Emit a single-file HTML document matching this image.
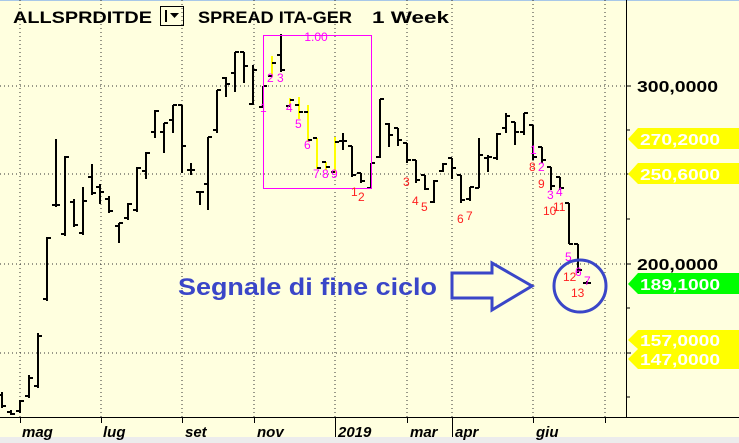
<!DOCTYPE html>
<html><head><meta charset="utf-8"><style>
html,body{margin:0;padding:0;background:#ffffe0;}
svg{display:block}
</style></head><body>
<svg width="739" height="443" viewBox="0 0 739 443" xmlns="http://www.w3.org/2000/svg" font-family="Liberation Sans, sans-serif">
<rect width="739" height="443" fill="#ffffdf"/>
<rect x="0" y="0" width="739" height="1" fill="#a8c8e8"/>
<rect x="0" y="437" width="739" height="6" fill="#ececec"/>
<g stroke="#333" stroke-width="1" stroke-dasharray="1,3">
<line x1="20" y1="0" x2="20" y2="417"/><line x1="101" y1="0" x2="101" y2="417"/><line x1="182" y1="0" x2="182" y2="417"/><line x1="254" y1="0" x2="254" y2="417"/><line x1="335" y1="0" x2="335" y2="417"/><line x1="407" y1="0" x2="407" y2="417"/><line x1="452" y1="0" x2="452" y2="417"/><line x1="533" y1="0" x2="533" y2="417"/><line x1="605" y1="0" x2="605" y2="417"/>
<line x1="0" y1="86" x2="626" y2="86"/><line x1="0" y1="174" x2="626" y2="174"/><line x1="0" y1="264" x2="626" y2="264"/><line x1="0" y1="353" x2="626" y2="353"/>
</g>
<g stroke="#000" stroke-width="1">
<line x1="626.5" y1="0" x2="626.5" y2="417"/><line x1="0" y1="417.5" x2="739" y2="417.5"/>
<line x1="626" y1="86" x2="631" y2="86"/><line x1="626" y1="130" x2="630" y2="130"/><line x1="626" y1="174" x2="631" y2="174"/><line x1="626" y1="219" x2="630" y2="219"/><line x1="626" y1="264" x2="631" y2="264"/><line x1="626" y1="308" x2="630" y2="308"/><line x1="626" y1="353" x2="631" y2="353"/><line x1="626" y1="397" x2="630" y2="397"/>
<line x1="20.5" y1="417" x2="20.5" y2="423"/><line x1="101.5" y1="417" x2="101.5" y2="423"/><line x1="182.5" y1="417" x2="182.5" y2="423"/><line x1="254.5" y1="417" x2="254.5" y2="423"/><line x1="335.5" y1="417" x2="335.5" y2="437"/><line x1="407.5" y1="417" x2="407.5" y2="423"/><line x1="452.5" y1="417" x2="452.5" y2="437"/><line x1="533.5" y1="417" x2="533.5" y2="423"/><line x1="605.5" y1="417" x2="605.5" y2="423"/>
</g>
<path fill="none" stroke="#ffff00" stroke-width="2" d="M272 56V77M290 98V107M299 97V119M308 105V142M317 138V169M326 162V170M335 137V173"/>
<path fill="none" stroke="#000" stroke-width="2" d="
M2 392V408M-2 395H2M2 406H6
M11 410V415M7 412H11M11 414H15
M20 400V413M16 411H20M20 401H24
M29 375V398M25 396H29M29 378H33
M38 333V388M34 386H38M38 336H42
M47 237V301M43 299H47M47 238H51
M56 139V207M52 205H56M56 205H60
M65 156V236M61 234H65M65 157H69
M74 199V227M70 202H74M74 225H78
M83 187V235M79 233H83M83 201H87
M92 164V195M88 177H92M92 193H96
M100 184V204M96 187H100M100 192H104
M109 196V213M105 199H109M109 211H113
M119 223V243M115 226H119M119 223H123
M128 203V220M124 218H128M128 204H132
M137 167V212M133 210H137M137 168H141
M146 152V179M142 171H146M146 153H150
M155 110V138M151 132H155M155 111H159
M164 123V153M160 132H164M164 123H168
M173 105V133M169 120H173M173 105H177
M182 105V173M178 105H182M182 146H186
M191 163V175M187 170H195
M200 191V205M196 192H204
M208 137V210M204 184H208M208 137H212
M217 90V133M213 130H217M217 90H221
M226 77V97M222 78H226M226 84H230
M235 52V92M231 73H235M235 52H239
M244 52V83M240 52H244M244 66H248
M253 65V105M249 104H253M253 70H257
M263 86V107M259 107H263M263 86H267
M268 76H272M272 63H276
M281 34V72M277 55H281M281 70H285
M286 106H290M290 100H294
M295 105H299M299 112H303
M304 112H308M308 140H312
M313 138H317M317 168H321
M322 162H326M326 167H330
M331 172H335M335 142H339
M343 133V150M339 141H343M343 141H347
M352 146V177M348 146H352M352 175H356
M361 173V183M357 173H361M361 181H365
M371 163V189M367 188H371M371 163H375
M380 99V158M376 157H380M380 99H384
M389 123V147M385 124H389M389 135H393
M398 128V146M394 128H398M398 140H402
M407 143V163M403 143H407M407 160H411
M416 160V183M412 160H416M416 180H420
M425 175V190M421 175H425M425 189H429
M434 180V203M430 202H434M434 181H438
M443 163V172M439 171H443M443 164H447
M452 158V179M448 158H452M452 168H456
M461 175V203M457 175H461M461 200H465
M470 187V201M466 199H470M470 187H474
M479 138V188M475 188H479M479 155H483
M488 155V172M484 158H488M488 157H492
M497 133V160M493 158H497M497 134H501
M506 113V133M502 128H506M506 116H510
M515 122V145M511 122H515M515 132H519
M524 113V135M520 132H524M524 113H528
M533 125V160M529 125H533M533 157H537
M542 147V163M538 147H542M542 160H546
M551 167V190M547 167H551M551 186H555
M560 177V190M556 177H560M560 188H564
M569 203V244M565 203H569M569 244H573
M578 244V273M574 244H578M578 270H582
M587 281V284M583 283H591"/>
<rect x="263.5" y="35.5" width="108" height="153" fill="none" stroke="#ff00ff" stroke-width="1"/>
<g font-size="12" fill="#ff00ff">
<text x="316" y="41" text-anchor="middle">1.00</text>
<text x="260" y="112">1</text><text x="267" y="82">2</text><text x="277" y="82">3</text><text x="286" y="112">4</text><text x="295" y="128">5</text><text x="304" y="149">6</text><text x="313" y="178">7</text><text x="322" y="178">8</text><text x="331" y="178">9</text>
<text x="530" y="154">1</text><text x="538" y="171">2</text><text x="547" y="199">3</text><text x="556" y="196">4</text><text x="565" y="261">5</text><text x="575" y="276">6</text><text x="584" y="285">7</text>
</g>
<g font-size="12" fill="#ff2020">
<text x="351" y="196">1</text><text x="358" y="201">2</text><text x="403" y="186">3</text><text x="412" y="205">4</text><text x="421" y="211">5</text><text x="457" y="223">6</text><text x="466" y="220">7</text>
<text x="529" y="171">8</text><text x="538" y="188">9</text><text x="543" y="215">10</text><text x="553" y="211">11</text><text x="563" y="281">12</text><text x="571" y="297">13</text>
</g>
<circle cx="580" cy="286" r="26" fill="none" stroke="#3a46c8" stroke-width="3"/>
<polygon points="452,273 492,273 492,263 532,286 492,310 492,298 452,298" fill="none" stroke="#3a46c8" stroke-width="3" stroke-linejoin="miter"/>
<text x="178" y="295" font-size="24" font-weight="bold" fill="#3a46c8" textLength="259" lengthAdjust="spacingAndGlyphs">Segnale di fine ciclo</text>
<g font-size="17" font-weight="bold" fill="#000">
<text x="13" y="23" textLength="139" lengthAdjust="spacingAndGlyphs">ALLSPRDITDE</text>
<text x="198" y="23" textLength="154" lengthAdjust="spacingAndGlyphs">SPREAD ITA-GER</text><text x="372" y="23" textLength="77" lengthAdjust="spacingAndGlyphs">1 Week</text>
</g>
<rect x="160.5" y="6.5" width="23" height="19" fill="none" stroke="#000" stroke-width="1"/>
<line x1="166" y1="10" x2="166" y2="22" stroke="#000" stroke-width="2"/>
<polygon points="170,13 179,13 174.5,18" fill="#000"/>
<g font-size="16" font-weight="bold" fill="#000">
<text x="637" y="92" textLength="81" lengthAdjust="spacingAndGlyphs">300,0000</text><text x="637" y="270" textLength="81" lengthAdjust="spacingAndGlyphs">200,0000</text>
</g>
<g font-size="16" font-weight="bold" fill="#fff">
<polygon points="628,139 638,128 739,128 739,149 638,149" fill="#ffff00"/><text x="640" y="145" textLength="80" lengthAdjust="spacingAndGlyphs">270,2000</text>
<polygon points="628,174 638,163 739,163 739,184 638,184" fill="#ffff00"/><text x="640" y="180" textLength="80" lengthAdjust="spacingAndGlyphs">250,6000</text>
<polygon points="628,284 638,273 739,273 739,294 638,294" fill="#00ff00"/><text x="640" y="290" textLength="80" lengthAdjust="spacingAndGlyphs">189,1000</text>
<polygon points="628,340 638,330 739,330 739,349 638,349" fill="#ffff00"/><text x="640" y="346" textLength="80" lengthAdjust="spacingAndGlyphs">157,0000</text>
<polygon points="628,359 638,349 739,349 739,369 638,369" fill="#ffff00"/><text x="640" y="365" textLength="80" lengthAdjust="spacingAndGlyphs">147,0000</text>
</g>
<g font-size="15" font-weight="bold" font-style="italic" fill="#000">
<text x="22" y="437">mag</text><text x="103" y="437">lug</text><text x="185" y="437">set</text><text x="257" y="437">nov</text><text x="338" y="437">2019</text><text x="410" y="437">mar</text><text x="455" y="437">apr</text><text x="536" y="437">giu</text>
</g>
</svg>
</body></html>
